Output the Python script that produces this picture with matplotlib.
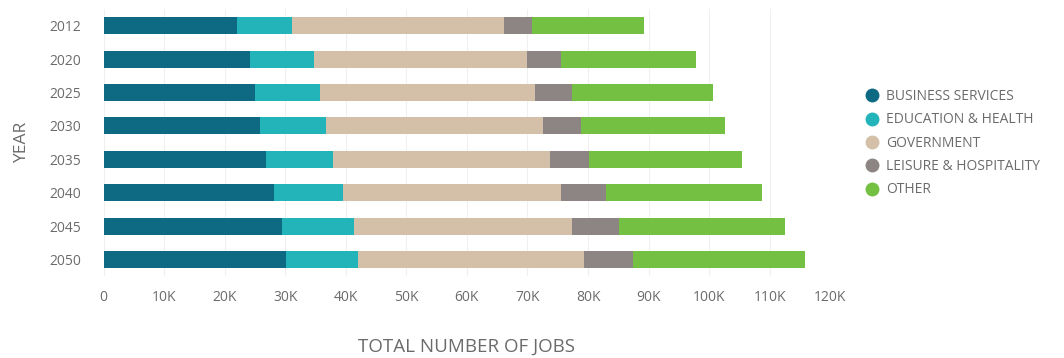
import numpy as np
import matplotlib.pyplot as plt
from matplotlib.lines import Line2D
from matplotlib.ticker import FuncFormatter

years = ["2012", "2020", "2025", "2030", "2035", "2040", "2045", "2050"]
sectors = ["BUSINESS SERVICES", "EDUCATION & HEALTH", "GOVERNMENT",
           "LEISURE & HOSPITALITY", "OTHER"]

business = [22100, 24200, 25000, 25900, 26900, 28200, 29500, 30200]
education = [9100, 10600, 10800, 10900, 11000, 11400, 11800, 11900]
government = [35000, 35200, 35500, 35800, 35900, 35900, 36100, 37300]
leisure = [4500, 5600, 6100, 6200, 6400, 7400, 7800, 8000]
other = [18600, 22300, 23200, 23900, 25200, 25900, 27300, 28500]

colors = ["#0e6a82", "#22b4b9", "#d4c0a9", "#8d8583", "#74c043"]
text_color = "#6b6b6b"

plt.rcParams['font.family'] = ['Open Sans', 'DejaVu Sans']

fig = plt.figure(figsize=(10.64, 3.58), dpi=100)
ax = fig.add_axes([0.0973, 0.229, 0.683, 0.745])

series = [business, education, government, leisure, other]
y = np.arange(len(years))
left = np.zeros(len(years))
for vals, c, name in zip(series, colors, sectors):
    ax.barh(y, vals, left=left, height=0.51, color=c, label=name, zorder=2)
    left += np.array(vals)

ax.set_xlim(0, 120000)
ax.set_ylim(len(years) - 0.5, -0.5)
ax.set_yticks(y)
ax.set_yticklabels(years)
ax.set_xticks(np.arange(0, 120001, 10000))
ax.xaxis.set_major_formatter(FuncFormatter(lambda v, p: "0" if v == 0 else f"{int(v/1000)}K"))
ax.grid(axis="x", color="#f0f0f0", linewidth=0.8, zorder=0)
for s in ax.spines.values():
    s.set_visible(False)
ax.tick_params(length=0, colors=text_color, labelsize=10)
ax.tick_params(axis="x", pad=10)
ax.tick_params(axis="y", pad=16)

ax.set_ylabel("YEAR", color=text_color, fontsize=12.5, labelpad=14)
ax.set_xlabel("TOTAL NUMBER OF JOBS", color=text_color, fontsize=13.5, labelpad=24)

handles = [Line2D([0], [0], marker="o", linestyle="", markersize=9,
                  markerfacecolor=c, markeredgecolor=c) for c in colors]
fig.legend(handles, sectors, loc="center left", bbox_to_anchor=(0.8, 0.6),
           frameon=False, fontsize=10, labelcolor=text_color,
           handletextpad=0.4, labelspacing=0.6, handlelength=1.2)

fig.savefig("out.png", dpi=100)
